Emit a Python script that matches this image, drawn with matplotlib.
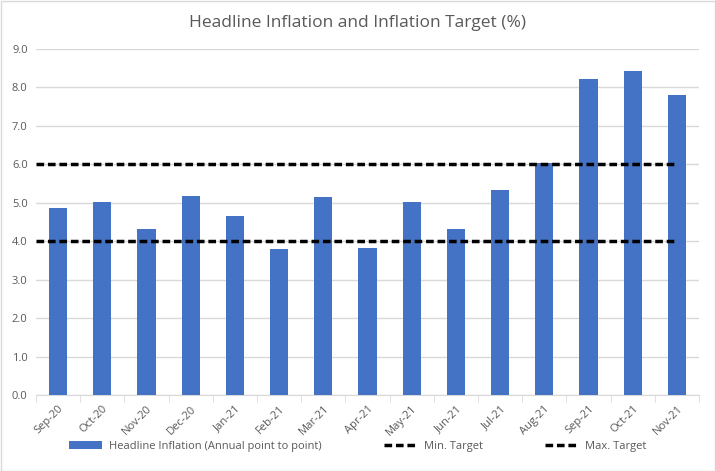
import matplotlib
matplotlib.use("Agg")
import matplotlib.pyplot as plt
from matplotlib.patches import Rectangle

months = ["Sep-20", "Oct-20", "Nov-20", "Dec-20", "Jan-21", "Feb-21", "Mar-21", "Apr-21",
          "May-21", "Jun-21", "Jul-21", "Aug-21", "Sep-21", "Oct-21", "Nov-21"]
headline = [4.86, 5.02, 4.32, 5.18, 4.66, 3.80, 5.15, 3.83, 5.02, 4.32, 5.33, 6.04, 8.22, 8.43, 7.80]
min_target = [4.0] * len(months)
max_target = [6.0] * len(months)

plt.rcParams['font.family'] = ['Open Sans', 'DejaVu Sans']
gray = '#595959'

fig = plt.figure(figsize=(7.15, 4.71), dpi=100)
ax = fig.add_axes([36/715, 1 - 395/471, (699-36)/715, (395-49)/471])

x = list(range(len(months)))
hb = ax.bar(x, headline, width=0.41, color='#4472C4', zorder=3,
            label='Headline Inflation (Annual point to point)')
xl = [-0.5] + x[1:]
hmin, = ax.plot(xl, min_target, color='black', lw=2.5, ls=(0, (2.2, 1.1)), zorder=4, label='Min. Target')
hmax, = ax.plot(xl, max_target, color='black', lw=2.5, ls=(0, (2.2, 1.1)), zorder=4, label='Max. Target')

ax.set_xlim(-0.5, len(months) - 0.5)
ax.set_ylim(0, 9)
ax.set_yticks([i for i in range(10)])
ax.set_yticklabels([f"{i:.1f}" for i in range(10)], color=gray, fontsize=8)
ax.set_xticks(x)
ax.set_xticklabels(months, rotation=45, ha='right', rotation_mode='anchor', color=gray, fontsize=8)
ax.tick_params(axis='y', length=0, pad=6)
ax.tick_params(axis='x', length=0, pad=6)
ax.set_xticks([i - 0.5 for i in range(len(months) + 1)], minor=True)
ax.tick_params(axis='x', which='minor', length=5, color='#d9d9d9')
ax.grid(axis='y', color='#d9d9d9', lw=1, zorder=0)
for s in ['top', 'right', 'left']:
    ax.spines[s].set_visible(False)
ax.spines['bottom'].set_color('#d9d9d9')

fig.text(0.5, 1 - 23/471, 'Headline Inflation and Inflation Target (%)', ha='center', va='center',
         fontsize=12.5, color=gray)

leg = fig.legend(handles=[hb, hmin, hmax], loc='center', bbox_to_anchor=(0.5, 1 - 446/471), ncol=3,
                 frameon=False, fontsize=8, labelcolor=gray, columnspacing=5.6, handlelength=3.0,
                 handletextpad=0.6)

fig.patches.append(Rectangle((0.5/715, 0.5/471), 1 - 1/715, 1 - 1/471, transform=fig.transFigure,
                             fill=False, edgecolor='#d9d9d9', lw=1))
fig.savefig('out.png', dpi=100, facecolor='white')
